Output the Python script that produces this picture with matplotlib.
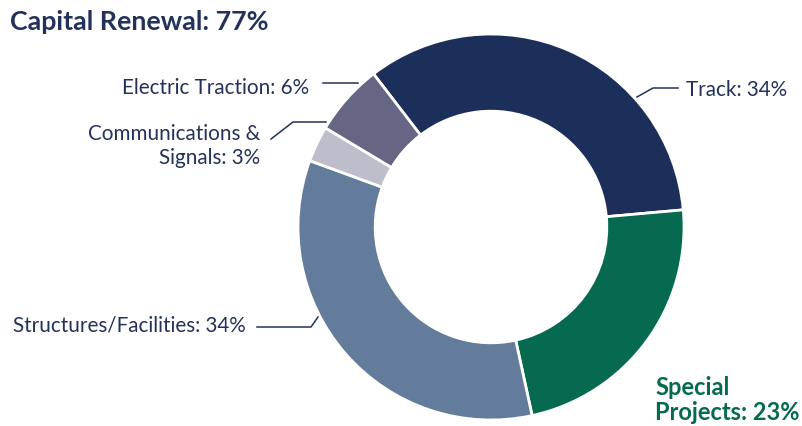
import matplotlib.pyplot as plt

plt.rcParams['font.family'] = ['Lato', 'DejaVu Sans']

# budget shares (%), drawn clockwise starting from Track
labels = ['Track', 'Special Projects', 'Structures/Facilities',
          'Communications & Signals', 'Electric Traction']
shares = [34, 23, 34, 3, 6]
colors = ['#1c2e5a', '#066a51', '#637c9b', '#bebdcc', '#676584']
explode = [0, 0.022, 0, 0, 0]

title = 'Capital Renewal: 77%'
navy = '#22325a'
green = '#066a51'

W, H = 802, 427
fig = plt.figure(figsize=(W / 100, H / 100), dpi=100)
ax = fig.add_axes([0, 0, 1, 1])

# work in pixel-like units, y measured from the top
def py(y):
    return H - y

ax.pie(shares, colors=colors, explode=explode, startangle=127.5,
       counterclock=False, radius=193, center=(491, py(228)),
       wedgeprops=dict(width=193 * 0.4, edgecolor='white', linewidth=2))
ax.set_xlim(0, W)
ax.set_ylim(0, H)
ax.set_aspect('equal')
ax.axis('off')

fs = 14.9
ax.text(10, py(22), title, fontsize=19.3, fontweight='bold', color=navy,
        ha='left', va='center')

# leader lines
lw = 1.1
ax.plot([323, 358], [py(84), py(84)], color=navy, lw=lw)
ax.plot([271, 293, 326], [py(140), py(123), py(123)], color=navy, lw=lw)
ax.plot([257, 311, 318], [py(328), py(328), py(318)], color=navy, lw=lw)
ax.plot([637, 653, 678], [py(98), py(89), py(89)], color=navy, lw=lw)

ax.text(309, py(88), f'Electric Traction: {shares[4]}%', fontsize=fs,
        color=navy, ha='right', va='center')
ax.text(260, py(146), f'Communications &\nSignals: {shares[3]}%', fontsize=fs,
        color=navy, ha='right', va='center', linespacing=1.3)
ax.text(13, py(326), f'Structures/Facilities: {shares[2]}%', fontsize=fs,
        color=navy, ha='left', va='center')
ax.text(686, py(90), f'Track: {shares[0]}%', fontsize=fs,
        color=navy, ha='left', va='center')
ax.text(655, py(400), f'Special\nProjects: {shares[1]}%', fontsize=17,
        fontweight='bold', color=green, ha='left', va='center',
        linespacing=1.15)

fig.savefig('out.png', dpi=100)
